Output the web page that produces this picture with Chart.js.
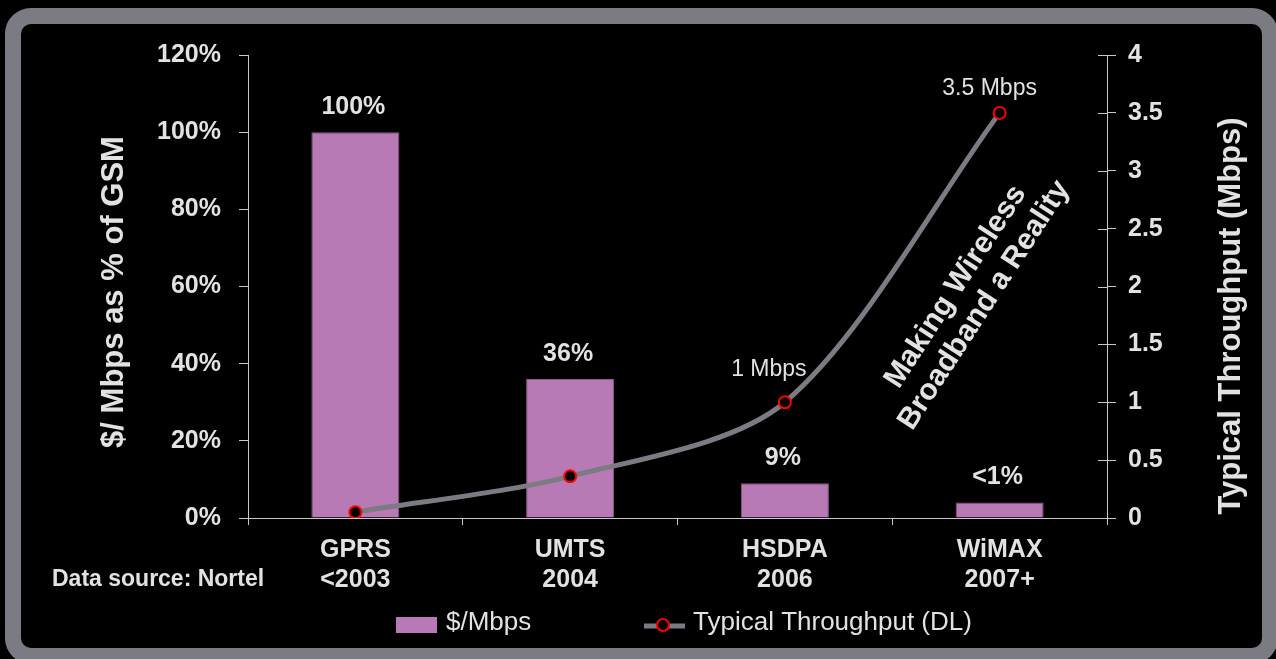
<!DOCTYPE html>
<html lang="en">
<head>
    <meta charset="UTF-8">
    <title>Wireless cost vs throughput</title>
    <style>
        body { margin: 0; background: #000; overflow: hidden; }
        .frame {
            position: absolute; left: 5px; top: 8px;
            width: 1241px; height: 624px;
            border: 16px solid #7b7b83; border-radius: 26px;
            background: #000;
        }
        .wrap { position: absolute; left: 0; top: 0; width: 1276px; height: 659px; }
    </style>
</head>
<body>
    <div class="frame"></div>
    <div class="wrap">
        <canvas id="myChart"></canvas>
    </div>

    <script src="https://cdn.jsdelivr.net/npm/chart.js"></script>
    <script>
        const categories = [['GPRS', '<2003'], ['UMTS', '2004'], ['HSDPA', '2006'], ['WiMAX', '2007+']];
        const costPct = [100, 36, 9, 4];            // $/Mbps as % of GSM
        const costLabels = ['100%', '36%', '9%', '<1%'];
        const throughput = [0.05, 0.36, 1.0, 3.5];  // Mbps
        const throughputLabels = ['', '', '1 Mbps', '3.5 Mbps'];

        const txt = '#e2e2e2';
        const purple = '#b77ab4';
        const grey = '#7b7b83';
        const bold = 'bold 25px "Liberation Sans", Arial, sans-serif';
        const plain = '"Liberation Sans", Arial, sans-serif';

        // extra text: titles, value labels, legend, source note
        const extras = {
            id: 'extras',
            afterDraw(chart) {
                const c = chart.ctx;
                const bars = chart.getDatasetMeta(0).data;
                const pts = chart.getDatasetMeta(1).data;
                const y1 = chart.scales.y1;
                c.save();
                c.fillStyle = txt;
                c.textAlign = 'center';
                c.textBaseline = 'middle';

                // inner half of the right axis ticks
                c.strokeStyle = '#c8c8c8';
                c.lineWidth = 1;
                y1.ticks.forEach(t => {
                    const y = Math.round(y1.getPixelForValue(t.value)) + 0.5;
                    c.beginPath();
                    c.moveTo(y1.left - 9, y);
                    c.lineTo(y1.left, y);
                    c.stroke();
                });

                // bar value labels
                c.font = bold;
                bars.forEach((b, i) => c.fillText(costLabels[i], b.x - 2, b.y - 25));

                // line value labels
                c.font = '23px ' + plain;
                c.fillText(throughputLabels[2], pts[2].x - 16, pts[2].y - 33);
                c.fillText(throughputLabels[3], pts[3].x - 10, pts[3].y - 24);

                // axis titles
                c.font = 'bold 31px ' + plain;
                c.save();
                c.translate(114, 292);
                c.rotate(-Math.PI / 2);
                c.fillText('$/ Mbps as % of GSM', 0, 0);
                c.restore();
                c.save();
                c.translate(1231, 316);
                c.rotate(-Math.PI / 2);
                c.fillText('Typical Throughput (Mbps)', 0, 0);
                c.restore();

                // slanted note
                c.font = 'bold 30px ' + plain;
                c.save();
                c.translate(970, 296);
                c.rotate(-57 * Math.PI / 180);
                c.fillText('Making Wireless', 0, -17);
                c.fillText('Broadband a Reality', 0, 17);
                c.restore();

                // data source
                c.font = 'bold 23px ' + plain;
                c.textAlign = 'left';
                c.fillText('Data source: Nortel', 52, 580);

                // legend
                c.fillStyle = purple;
                c.fillRect(396, 617, 41, 16);
                c.fillStyle = txt;
                c.font = '26px ' + plain;
                c.fillText('$/Mbps', 446, 623);
                c.strokeStyle = grey;
                c.lineWidth = 5;
                c.beginPath();
                c.moveTo(644, 626);
                c.lineTo(685, 626);
                c.stroke();
                c.fillStyle = '#000';
                c.strokeStyle = '#ff0000';
                c.lineWidth = 2;
                c.beginPath();
                c.arc(663, 625, 6, 0, Math.PI * 2);
                c.fill();
                c.stroke();
                c.fillStyle = txt;
                c.fillText('Typical Throughput (DL)', 693, 623);
                c.restore();
            }
        };

        const ctx = document.getElementById('myChart');

        new Chart(ctx, {
            type: 'bar',
            data: {
                labels: categories,
                datasets: [{
                    label: '$/Mbps',
                    data: costPct,
                    backgroundColor: purple,
                    borderColor: '#8a5a88',
                    borderWidth: 1,
                    barPercentage: 0.41,
                    categoryPercentage: 1,
                    yAxisID: 'y',
                    order: 2
                }, {
                    type: 'line',
                    label: 'Typical Throughput (DL)',
                    data: throughput,
                    borderColor: grey,
                    borderWidth: 5,
                    tension: 0.3,
                    pointRadius: 6,
                    pointBorderWidth: 2,
                    pointBorderColor: '#ff0000',
                    pointBackgroundColor: '#000',
                    yAxisID: 'y1',
                    order: 1
                }]
            },
            options: {
                responsive: true,
                maintainAspectRatio: false,
                animation: false,
                layout: { padding: { top: 55, left: 0, right: 0, bottom: 0 } },
                plugins: {
                    legend: { display: false },
                    tooltip: { enabled: false }
                },
                scales: {
                    x: {
                        afterFit: s => { s.height = 141; },
                        grid: { drawOnChartArea: false, tickLength: 7, color: '#c8c8c8' },
                        border: { color: '#c8c8c8' },
                        ticks: { color: txt, font: { family: plain, size: 25, weight: 'bold', lineHeight: 1.2 }, padding: 10 }
                    },
                    y: {
                        position: 'left',
                        min: 0, max: 120,
                        afterFit: s => { s.width = 248; },
                        grid: { drawOnChartArea: false, tickLength: 9, color: '#c8c8c8' },
                        border: { color: '#c8c8c8' },
                        ticks: {
                            stepSize: 20,
                            padding: 18,
                            color: txt,
                            font: { family: plain, size: 25, weight: 'bold' },
                            callback: v => v + '%'
                        }
                    },
                    y1: {
                        position: 'right',
                        min: 0, max: 4,
                        afterFit: s => { s.width = 169; },
                        grid: { drawOnChartArea: false, tickLength: 9, color: '#c8c8c8' },
                        border: { color: '#c8c8c8' },
                        ticks: {
                            stepSize: 0.5,
                            padding: 12,
                            color: txt,
                            font: { family: plain, size: 25, weight: 'bold' },
                            callback: v => String(v)
                        }
                    }
                }
            },
            plugins: [extras]
        });
    </script>
</body>
</html>
